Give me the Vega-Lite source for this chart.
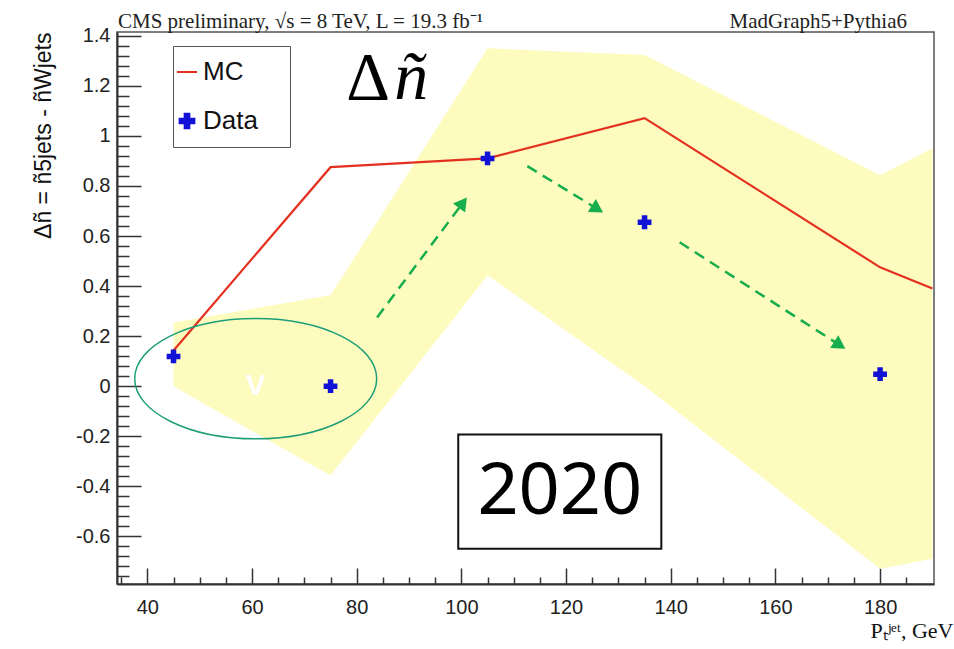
{
  "$schema": "https://vega.github.io/schema/vega-lite/v6.json",
  "width": 817,
  "height": 552,
  "autosize": {"type": "none"},
  "padding": {"left": 117, "top": 32, "right": 20, "bottom": 65},
  "background": "white",
  "config": {"view": {"stroke": "#555", "strokeWidth": 1.5}, "font": "Liberation Sans"},
  "resolve": {"axis": {"x": "independent", "y": "independent"}},
  "layer": [
    {
      "data": {"values": [
        {"pt": 45, "lo": 0.0, "hi": 0.255},
        {"pt": 75, "lo": -0.357, "hi": 0.363},
        {"pt": 105, "lo": 0.443, "hi": 1.35},
        {"pt": 135, "lo": 0.0, "hi": 1.323},
        {"pt": 180, "lo": -0.729, "hi": 0.843},
        {"pt": 190, "lo": -0.689, "hi": 0.951}
      ]},
      "mark": {"type": "area", "color": "#fdfbbe", "opacity": 1},
      "encoding": {
        "x": {"field": "pt", "type": "quantitative", "scale": {"domain": [34.2, 190.3], "nice": false, "zero": false},
          "axis": {
            "orient": "bottom",
            "values": [40, 60, 80, 100, 120, 140, 160, 180],
            "tickSize": -16,
            "labelOverlap": false, "labelFlush": false,
            "labelFont": "Liberation Sans", "labelFontSize": 20, "labelColor": "#222", "labelPadding": 29,
            "tickColor": "#333", "tickWidth": 1.5, "domainColor": "#333", "domainWidth": 2, "grid": false,
            "title": "Pₜʲᵉᵗ, GeV", "titleFont": "Liberation Serif", "titleFontSize": 22, "titleFontWeight": "normal", "titleColor": "#111",
            "titleAlign": "right", "titleBaseline": "alphabetic", "titleX": 836, "titleY": 53
          }},
        "y": {"field": "lo", "type": "quantitative", "scale": {"domain": [-0.79, 1.415], "nice": false, "zero": false},
          "axis": {
            "orient": "left",
            "values": [-0.6, -0.4, -0.2, 0, 0.2, 0.4, 0.6, 0.8, 1, 1.2, 1.4],
            "tickSize": -24,
            "labelExpr": "'' + datum.value",
            "labelOverlap": false, "labelFlush": false,
            "labelFont": "Liberation Sans", "labelFontSize": 20, "labelColor": "#222", "labelPadding": 31,
            "tickColor": "#333", "tickWidth": 1.5, "domainColor": "#333", "domainWidth": 2, "grid": false,
            "title": "Δñ = ñ5jets - ñWjets", "titleFont": "Liberation Sans", "titleFontSize": 23, "titleFontWeight": "normal", "titleColor": "#111",
            "titleAngle": -90, "titleAlign": "right", "titleBaseline": "alphabetic", "titleX": -67, "titleY": 0
          }},
        "y2": {"field": "hi"}
      }
    },
    {
      "mark": {"type": "rule", "color": "#111", "strokeWidth": 1.5},
      "encoding": {"y": {"datum": 0, "type": "quantitative", "axis": null}}
    },
    {
      "data": {"values": [
        {"pt": 45, "dn": 0.143},
        {"pt": 75, "dn": 0.875},
        {"pt": 105, "dn": 0.91},
        {"pt": 135, "dn": 1.071},
        {"pt": 180, "dn": 0.475},
        {"pt": 190, "dn": 0.39}
      ]},
      "mark": {"type": "line", "color": "#e3301f", "strokeWidth": 2.2},
      "encoding": {
        "x": {"field": "pt", "type": "quantitative",
          "axis": {"orient": "bottom", "values": [35,45,50,55,65,70,75,85,90,95,105,110,115,125,130,135,145,150,155,165,170,175,185],
            "tickSize": -7, "labels": false, "domain": false, "title": null, "grid": false, "tickColor": "#333", "tickWidth": 1.5}},
        "y": {"field": "dn", "type": "quantitative",
          "axis": {"orient": "left", "values": [-0.76,-0.72,-0.68,-0.64,-0.56,-0.52,-0.48,-0.44,-0.36,-0.32,-0.28,-0.24,-0.16,-0.12,-0.08,-0.04,0.04,0.08,0.12,0.16,0.24,0.28,0.32,0.36,0.44,0.48,0.52,0.56,0.64,0.68,0.72,0.76,0.84,0.88,0.92,0.96,1.04,1.08,1.12,1.16,1.24,1.28,1.32,1.36],
            "tickSize": -12, "labels": false, "domain": false, "title": null, "grid": false, "tickColor": "#333", "tickWidth": 1.5}}
      }
    },
    {
      "data": {"values": [
        {"pt": 45, "dn": 0.119, "series": "Data"},
        {"pt": 75, "dn": 0.0, "series": "Data"},
        {"pt": 105, "dn": 0.91, "series": "Data"},
        {"pt": 135, "dn": 0.655, "series": "Data"},
        {"pt": 180, "dn": 0.048, "series": "Data"}
      ]},
      "mark": {"type": "point", "filled": true, "size": 190, "opacity": 1},
      "encoding": {
        "x": {"field": "pt", "type": "quantitative", "axis": null},
        "y": {"field": "dn", "type": "quantitative", "axis": null},
        "color": {"field": "series", "type": "nominal", "scale": {"domain": ["MC", "Data"], "range": ["#e3301f", "#1212d6"]},
          "legend": {"orient": "none", "legendX": 56, "legendY": 14, "title": null, "fillColor": "white", "strokeColor": "#555", "padding": 13, "rowPadding": 23,
            "labelFontSize": 26, "labelFont": "Liberation Sans", "labelColor": "#111", "labelOffset": 3, "symbolOffset": -12, "symbolSize": 280,
            "labelExpr": "datum.label + '\u2800'"}},
        "shape": {"field": "series", "type": "nominal", "scale": {"domain": ["MC", "Data"], "range": ["M-1.2,-0.12H1.2V0.12H-1.2Z", "cross"]},
          "legend": {"orient": "none", "legendX": 56, "legendY": 14, "title": null, "fillColor": "white", "strokeColor": "#555", "padding": 13, "rowPadding": 23,
            "labelFontSize": 26, "labelFont": "Liberation Sans", "labelColor": "#111", "labelOffset": 3, "symbolOffset": -12, "symbolSize": 280,
            "labelExpr": "datum.label + '\u2800'"}}
      }
    },
    {
      "data": {"values": [{"cx": 60.7, "cy": 0.03}]},
      "mark": {"type": "point", "shape": "M-1,0A1,0.497,0,1,0,1,0A1,0.497,0,1,0,-1,0Z", "size": 58564, "filled": false, "stroke": "#1d9e78", "strokeWidth": 1.5, "opacity": 1},
      "encoding": {
        "x": {"field": "cx", "type": "quantitative", "axis": null},
        "y": {"field": "cy", "type": "quantitative", "axis": null}
      }
    },
    {
      "data": {"values": [{"cx": 60.7, "cy": 0.0, "label": "V"}]},
      "mark": {"type": "text", "color": "white", "font": "Liberation Sans", "fontSize": 30, "fontWeight": "bold", "baseline": "middle", "align": "center"},
      "encoding": {
        "x": {"field": "cx", "type": "quantitative", "axis": null},
        "y": {"field": "cy", "type": "quantitative", "axis": null},
        "text": {"field": "label"}
      }
    },
    {
      "data": {"values": [
        {"arrow": "a1", "x1": 83.9, "y1": 0.275, "x2": 100.3, "y2": 0.733},
        {"arrow": "a2", "x1": 112.6, "y1": 0.879, "x2": 126.0, "y2": 0.708},
        {"arrow": "a3", "x1": 141.7, "y1": 0.575, "x2": 172.3, "y2": 0.164}
      ]},
      "layer": [
        {
          "mark": {"type": "rule", "color": "#16ad4c", "strokeWidth": 2.5, "strokeDash": [11, 7]},
          "encoding": {
            "x": {"field": "x1", "type": "quantitative", "axis": null},
            "y": {"field": "y1", "type": "quantitative", "axis": null},
            "x2": {"field": "x2"},
            "y2": {"field": "y2"}
          }
        },
        {
          "mark": {"type": "point", "shape": "triangle-up", "filled": true, "color": "#16ad4c", "size": 230, "opacity": 1},
          "encoding": {
            "x": {"field": "x2", "type": "quantitative", "axis": null},
            "y": {"field": "y2", "type": "quantitative", "axis": null},
            "angle": {"field": "arrow", "type": "nominal", "scale": {"type": "ordinal", "domain": ["a1", "a2", "a3"], "range": [36.8, 121.4, 122.6]}, "legend": null}
          }
        }
      ]
    },
    {
      "data": {"values": [{"x1": 99.4, "x2": 138.2, "y1": -0.193, "y2": -0.649}]},
      "mark": {"type": "rect", "fill": "white", "stroke": "#111", "strokeWidth": 2},
      "encoding": {
        "x": {"field": "x1", "type": "quantitative", "axis": null},
        "x2": {"field": "x2"},
        "y": {"field": "y1", "type": "quantitative", "axis": null},
        "y2": {"field": "y2"}
      }
    },
    {
      "data": {"values": [{"cx": 118.8, "cy": -0.421, "label": "2020"}]},
      "mark": {"type": "text", "color": "black", "font": "Noto Sans", "fontSize": 72, "baseline": "middle", "align": "center"},
      "encoding": {
        "x": {"field": "cx", "type": "quantitative", "axis": null},
        "y": {"field": "cy", "type": "quantitative", "axis": null},
        "text": {"field": "label"}
      }
    },
    {
      "data": {"values": [{"cx": 82.2, "cy": 1.147, "label": "Δ"}]},
      "mark": {"type": "text", "color": "black", "font": "Liberation Serif", "fontSize": 68, "baseline": "alphabetic", "align": "center"},
      "encoding": {
        "x": {"field": "cx", "type": "quantitative", "axis": null},
        "y": {"field": "cy", "type": "quantitative", "axis": null},
        "text": {"field": "label"}
      }
    },
    {
      "data": {"values": [{"cx": 90.4, "cy": 1.147, "label": "ñ"}]},
      "mark": {"type": "text", "color": "black", "font": "Liberation Serif", "fontSize": 68, "fontStyle": "italic", "baseline": "alphabetic", "align": "center"},
      "encoding": {
        "x": {"field": "cx", "type": "quantitative", "axis": null},
        "y": {"field": "cy", "type": "quantitative", "axis": null},
        "text": {"field": "label"}
      }
    },
    {
      "data": {"values": [{"cx": 34.2, "cy": 1.415, "label": "CMS preliminary, √s = 8 TeV, L = 19.3 fb⁻¹"}]},
      "mark": {"type": "text", "color": "#222", "font": "Liberation Serif", "fontSize": 21, "baseline": "alphabetic", "align": "left", "dx": 1, "dy": -4},
      "encoding": {
        "x": {"field": "cx", "type": "quantitative", "axis": null},
        "y": {"field": "cy", "type": "quantitative", "axis": null},
        "text": {"field": "label"}
      }
    },
    {
      "data": {"values": [{"cx": 190.3, "cy": 1.415, "label": "MadGraph5+Pythia6"}]},
      "mark": {"type": "text", "color": "#222", "font": "Liberation Serif", "fontSize": 21, "baseline": "alphabetic", "align": "right", "dx": -27, "dy": -4},
      "encoding": {
        "x": {"field": "cx", "type": "quantitative", "axis": null},
        "y": {"field": "cy", "type": "quantitative", "axis": null},
        "text": {"field": "label"}
      }
    }
  ]
}
